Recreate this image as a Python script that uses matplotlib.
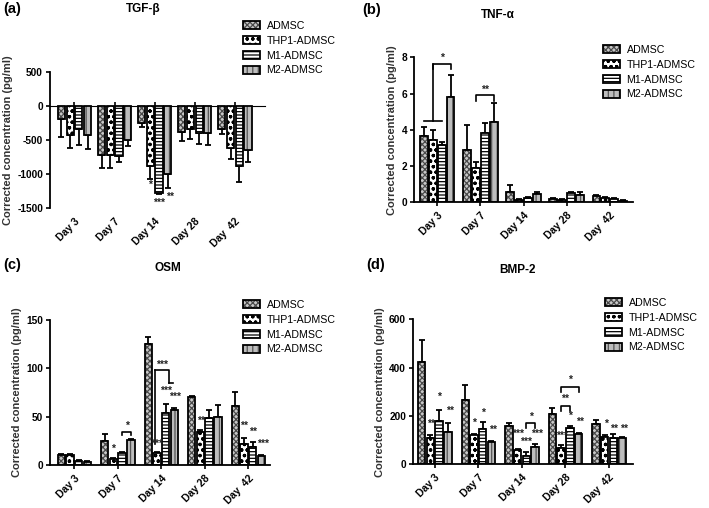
import numpy as np
import matplotlib
matplotlib.use("Agg")
import matplotlib.pyplot as plt
from matplotlib.patches import Patch

plt.rcParams['font.family'] = ['Liberation Sans', 'DejaVu Sans']
plt.rcParams['hatch.linewidth'] = 0.9

days = ['Day 3', 'Day 7', 'Day 14', 'Day 28', 'Day  42']
groups = ['ADMSC', 'THP1-ADMSC', 'M1-ADMSC', 'M2-ADMSC']

# TGF-beta (negative values), rows = group, cols = day
tgf_mean = [[-200, -725, -260, -382, -348],
            [-431, -725, -882, -348, -618],
            [-348, -745, -1279, -407, -882],
            [-431, -510, -1005, -407, -652]]
tgf_err = [[256, 187, 59, 133, 69],
           [196, 196, 201, 147, 166],
           [230, 88, 20, 157, 236],
           [206, 88, 211, 167, 181]]

# TNF-alpha
tnf_mean = [[3.65, 2.9, 0.55, 0.2, 0.35],
            [3.45, 1.9, 0.15, 0.15, 0.25],
            [3.15, 3.8, 0.25, 0.5, 0.2],
            [5.8, 4.45, 0.45, 0.4, 0.08]]
tnf_err = [[0.5, 1.35, 0.4, 0.05, 0.05],
           [0.55, 0.35, 0.05, 0.05, 0.05],
           [0.15, 0.6, 0.05, 0.05, 0.02],
           [1.2, 1.05, 0.1, 0.15, 0.02]]

# OSM
osm_mean = [[10.5, 24.5, 125, 70.5, 61.5],
            [10.5, 6.5, 12, 34.5, 21.5],
            [4.5, 12, 53.5, 48.5, 19],
            [3.5, 25.5, 57, 50, 9.5]]
osm_err = [[1, 8, 7, 1, 14],
           [1, 1, 1.5, 1.5, 6],
           [0.5, 1, 10, 8, 4.5],
           [0.5, 1, 1.5, 12.5, 1]]

# BMP-2
bmp_mean = [[425, 265, 160, 207, 168],
            [110, 120, 60, 68, 115],
            [180, 145, 35, 150, 108],
            [135, 92, 72, 125, 110]]
bmp_err = [[90, 65, 10, 25, 17],
           [10, 5, 5, 12, 5],
           [45, 30, 15, 10, 17],
           [35, 5, 10, 5, 3]]

face = ['#c8c8c8', 'white', 'white', '#bdbdbd']
hatch = ['xxxxxx', 'ooo', '-----', '|||']
hcol = ['#4a4a4a', 'black', 'black', '#555555']

fig = plt.figure(figsize=(7.09, 5.08), dpi=100)


def panel(rect, mean, err, ylim, yticks, title, tlab, xlim, step, width,
          title_xy, lab_xy, leg_xy, zero_axis=False):
    ax = fig.add_axes(rect)
    x = np.arange(len(days))
    for i in range(4):
        xs = x + (i - 1.5) * step
        m = np.array(mean[i])
        e = np.array(err[i])
        ax.bar(xs, m, width, color=face[i], hatch=hatch[i], edgecolor=hcol[i],
               linewidth=0, zorder=2)
        ax.bar(xs, m, width, fill=False, edgecolor='black', linewidth=1.3, zorder=3)
        lo = np.where(m < 0, e, 0)
        hi = np.where(m >= 0, e, 0)
        ax.errorbar(xs, m, yerr=[lo, hi], fmt='none', ecolor='black',
                    elinewidth=1.3, capsize=2.5, capthick=1.3, zorder=1)
    ax.set_xlim(*xlim)
    ax.set_ylim(*ylim)
    ax.set_yticks(yticks)
    ax.set_yticklabels([str(t) for t in yticks], fontweight='bold', fontsize=7.3)
    ax.tick_params(axis='y', length=3, width=1.2, pad=2)
    for s in ['top', 'right']:
        ax.spines[s].set_visible(False)
    ax.spines['left'].set_linewidth(1.3)
    ax.set_xticks(x)
    ax.set_xticklabels(days, rotation=45, ha='right', rotation_mode='anchor',
                       fontweight='bold', fontsize=7.5)
    if zero_axis:
        ax.spines['bottom'].set_visible(False)
        ax.tick_params(axis='x', length=0, pad=6)
        frac = (0 - ylim[0]) / (ylim[1] - ylim[0])
        sec = ax.secondary_xaxis(frac)
        sec.set_xticks(x)
        sec.set_xticklabels([])
        sec.tick_params(length=3, width=1.2)
        sec.spines['bottom'].set_linewidth(1.3)
    else:
        ax.spines['bottom'].set_linewidth(1.3)
        ax.tick_params(axis='x', length=3, width=1.2, pad=3)
    ax.set_ylabel('Corrected concentration (pg/ml)', fontsize=8, fontweight='bold',
                  color='#333333', labelpad=3)
    fig.text(title_xy[0] / 709, 1 - title_xy[1] / 508, title, fontweight='bold',
             fontsize=8.5, ha='center', va='center')
    fig.text(lab_xy[0] / 709, 1 - lab_xy[1] / 508, tlab, fontweight='bold',
             fontsize=10.5, ha='left', va='center')
    handles = [(Patch(facecolor=face[i], hatch=hatch[i], edgecolor=hcol[i], linewidth=0),
                Patch(fill=False, edgecolor='black', linewidth=1.3)) for i in range(4)]
    ax.legend(handles, groups, loc='upper left',
              bbox_to_anchor=(leg_xy[0] / 709, 1 - leg_xy[1] / 508),
              bbox_transform=fig.transFigure, frameon=False, fontsize=7.7,
              handlelength=1.6, handleheight=0.75, handletextpad=0.6,
              labelspacing=0.45, borderpad=0, borderaxespad=0)
    return ax


def star(ax, x, y, s):
    ax.text(x, y, s, ha='center', va='center', fontsize=7.5, fontweight='bold',
            color='#222222', zorder=5)


def bracket(ax, x0, x1, y, h):
    ax.plot([x0, x0, x1, x1], [y - h, y, y, y - h], color='black', lw=1.2, zorder=4)


# (a) TGF-beta
axa = panel([50 / 709, 1 - 207.7 / 508, 215 / 709, 136 / 508], tgf_mean, tgf_err,
            (-1500, 500), [500, 0, -500, -1000, -1500], 'TGF-\u03b2', '(a)',
            (-0.61, 4.75), 0.217, 0.18, (143, 9), (3, 9), (243, 21), zero_axis=True)
sa = 0.217
star(axa, 2 - 0.5 * sa, -1160, '*')
star(axa, 2 + 0.5 * sa, -1425, '***')
star(axa, 2 + 1.5 * sa + 0.05, -1345, '**')

# (b) TNF-alpha
axb = panel([414 / 709, 1 - 202.3 / 508, 219 / 709, 145 / 508], tnf_mean, tnf_err,
            (0, 8), [0, 2, 4, 6, 8], 'TNF-\u03b1', '(b)',
            (-0.54, 4.54), 0.205, 0.18, (498, 15), (362, 10), (603, 45))
sb = 0.205
axb.plot([-1.5 * sb, 0.5 * sb], [4.5, 4.5], color='black', lw=1.2)
axb.plot([-0.5 * sb, -0.5 * sb], [4.5, 7.63], color='black', lw=1.2)
bracket(axb, -0.5 * sb, 1.5 * sb, 7.63, 0.3)
star(axb, 0.5 * sb, 7.95, '*')
bracket(axb, 1 - 0.5 * sb, 1 + 1.5 * sb, 5.9, 0.3)
star(axb, 1 + 0.5 * sb, 6.2, '**')

# (c) OSM
axc = panel([50 / 709, 1 - 465 / 508, 220 / 709, 145 / 508], osm_mean, osm_err,
            (0, 150), [0, 50, 100, 150], 'OSM', '(c)',
            (-0.56, 4.5), 0.2, 0.17, (168, 268), (3, 265), (243, 300))
sc = 0.2
star(axc, 1 - 0.5 * sc, 17, '*')
bracket(axc, 1 + 0.5 * sc, 1 + 1.5 * sc, 34, 3)
star(axc, 1 + sc, 40, '*')
star(axc, 2 - 0.5 * sc, 22, '***')
axc.plot([2 - 0.75 * sc, 2 - 0.75 * sc], [22, 98], color='black', lw=1.2)
axc.plot([2 - 0.75 * sc, 2 + 0.85 * sc, 2 + 0.85 * sc], [98, 98, 84.5], color='black', lw=1.2)
axc.plot([2 + 0.85 * sc, 2 + 1.35 * sc], [84.5, 84.5], color='black', lw=1.2)
star(axc, 2 + 0.1 * sc, 104, '***')
star(axc, 2 + 0.5 * sc, 77, '***')
star(axc, 2 + 1.6 * sc, 70, '***')
star(axc, 3 - 0.4 * sc, 46, '**')
star(axc, 4 - 0.45 * sc, 41, '**')
star(axc, 4 + 0.55 * sc, 34, '**')
star(axc, 4 + 1.7 * sc, 22, '***')

# (d) BMP-2
axd = panel([413 / 709, 1 - 464.3 / 508, 220 / 709, 145 / 508], bmp_mean, bmp_err,
            (0, 600), [0, 200, 400, 600], 'BMP-2', '(d)',
            (-0.5, 4.55), 0.2, 0.17, (518, 270), (366, 265), (605, 298))
sd = 0.2
star(axd, 0 - 0.4 * sd, 168, '**')
star(axd, 0 + 0.5 * sd, 280, '*')
star(axd, 0 + 1.7 * sd, 220, '**')
star(axd, 1 - 0.5 * sd, 172, '*')
star(axd, 1 + 0.5 * sd, 211, '*')
star(axd, 1 + 1.7 * sd, 142, '**')
star(axd, 2 - 0.4 * sd, 124, '***')
star(axd, 2 + 0.5 * sd, 94, '***')
star(axd, 2 + 1.7 * sd, 124, '***')
bracket(axd, 2 + 0.5 * sd, 2 + 1.5 * sd, 170, 20)
star(axd, 2 + sd, 195, '*')
star(axd, 3 - 0.4 * sd, 118, '***')
star(axd, 3 + 0.5 * sd, 201, '*')
star(axd, 3 + 1.7 * sd, 174, '**')
bracket(axd, 3 - 0.5 * sd, 3 + 0.5 * sd, 241, 20)
star(axd, 3, 270, '**')
bracket(axd, 3 - 0.5 * sd, 3 + 1.5 * sd, 321, 20)
star(axd, 3 + 0.5 * sd, 350, '*')
star(axd, 4 - 0.4 * sd, 167, '*')
star(axd, 4 + 0.6 * sd, 146, '**')
star(axd, 4 + 1.7 * sd, 146, '**')

fig.savefig('out.png', dpi=100)
